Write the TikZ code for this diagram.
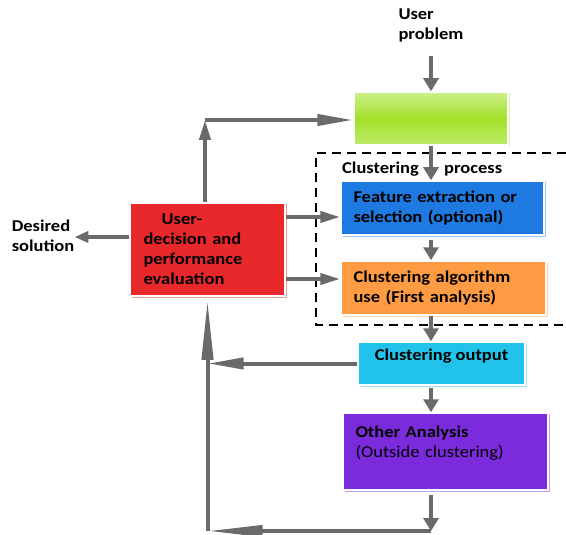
\documentclass[tikz,border=0pt]{standalone}
\usepackage{fontspec}
\setmainfont{Carlito}[FakeStretch=1.12]
\usetikzlibrary{arrows.meta,shadows,calc}

\definecolor{boxgreen}{HTML}{A3E22B}
\definecolor{boxblue}{HTML}{1E7AE0}
\definecolor{boxorange}{HTML}{FF9B42}
\definecolor{boxcyan}{HTML}{22C3EB}
\definecolor{boxpurple}{HTML}{7B2BDB}
\definecolor{boxred}{HTML}{E8282A}
\definecolor{shaft}{HTML}{6A6A6A}

\tikzset{
  txt/.style={font=\fontsize{16.5}{20}\selectfont\bfseries, align=left, inner sep=0pt},
  card/.style={draw=white, line width=1.5pt, inner sep=0pt, txt,
    drop shadow={shadow xshift=1.5pt, shadow yshift=-1.5pt, fill=#1!45, opacity=1}, fill=#1},
  flow/.style={draw=shaft, line width=4.5pt, -{Triangle[length=13pt,width=15pt]}},
  feed/.style={draw=shaft, line width=4pt, -{Triangle[length=#1,width=11pt]}},
}

\begin{document}
\begin{tikzpicture}[x=1pt,y=-1pt]
  \useasboundingbox (0,0) rectangle (566,535);

  % texts outside the boxes
  \node[txt] (prob) at (431,25) {User\\problem};
  \node[txt] (desired) at (43,236) {Desired\\solution};

  % boxes
  \node[card=boxgreen, top color=boxgreen!55!white, bottom color=boxgreen!70!white, middle color=boxgreen,
        minimum width=154pt, minimum height=53pt] (start) at (431,118.5) {};
  \node[card=boxblue, minimum width=203pt, minimum height=54pt, text width=178pt] (feat) at (442.5,208)
        {Feature extraction or\\selection (optional)};
  \node[card=boxorange, minimum width=205pt, minimum height=54pt, text width=180pt] (algo) at (443.5,288)
        {Clustering algorithm\\use (First analysis)};
  \node[card=boxcyan, minimum width=167pt, minimum height=43pt] (outp) at (441.5,363.5)
        {Clustering output\\[-2pt]\mbox{}};
  \node[card=boxpurple, minimum width=205pt, minimum height=77pt, text width=180pt] (other) at (445.5,451.5)
        {Other Analysis\\\mdseries(Outside clustering)\\\mbox{}};
  \node[card=boxred, minimum width=155pt, minimum height=93pt, text width=128pt] (eval) at (207.5,249.5)
        {\hspace*{1.1em}User-\\decision and\\performance\\evaluation};

  % dashed frame of the clustering process
  \draw[dashed, dash pattern=on 9pt off 6pt, line width=1.2pt] (566,153) -- (316,153) -- (316,325) -- (566,325);
  \node[txt, anchor=base west] (proclbl) at (342,174) {Clustering};
  \node[txt, anchor=base west] (proclbl2) at (444,174) {process};

  % main flow
  \draw[flow, shorten <=14pt] (prob.south -| start.north) -- (start.north);
  \draw[flow] (start.south) -- (start.south |- feat.north);
  \draw[flow] (start.south |- feat.south) ++(0,4) -- (start.south |- algo.north);
  \draw[flow] (start.south |- algo.south) -- (start.south |- outp.north);
  \draw[flow] (start.south |- outp.south) ++(0,2) -- (start.south |- other.north);
  \coordinate (bot) at (start.south |- 0,531);
  \draw[flow] (start.south |- other.south) ++(0,4) -- (bot);

  % feedback loops
  \draw[feed=55pt] (bot) -- (bot -| eval.south);
  \draw[feed=60pt] (bot -| eval.south) -- ([yshift=-3pt]eval.south);
  \draw[feed=36pt] (outp.west) -- (outp.west -| eval.south);
  \coordinate (top) at (205,120);
  \draw[feed=20pt] (eval.north -| top) -- (top);
  \draw[feed=36pt] (top) -- (start.west |- top);

  % out of the evaluation box
  \draw[feed=14pt] (eval.west |- 0,237) -- (desired.east |- 0,237);
  \draw[feed=20pt] (eval.east |- 0,217) -- (feat.west |- 0,217);
  \draw[feed=20pt] (eval.east |- 0,279) -- (algo.west |- 0,279);
\end{tikzpicture}
\end{document}
